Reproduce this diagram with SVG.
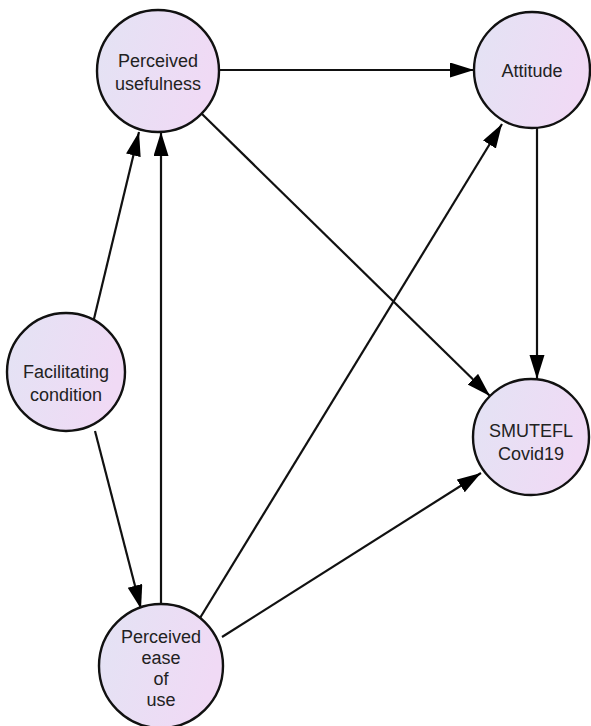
<svg xmlns="http://www.w3.org/2000/svg" width="591" height="726" viewBox="0 0 591 726">
<defs>
<linearGradient id="g" x1="0" y1="0" x2="1" y2="0.3">
<stop offset="0" stop-color="#e3e3f4"/>
<stop offset="1" stop-color="#f0daf5"/>
</linearGradient>
<marker id="arr" markerWidth="26" markerHeight="16" refX="24" refY="7.5" orient="auto" markerUnits="userSpaceOnUse">
<path d="M0,0 L24,7.5 L0,15 Z" fill="#000"/>
</marker>
<style>
.n{fill:url(#g);stroke:#111;stroke-width:2.4}
.t{font-family:"Liberation Sans",Arial,sans-serif;font-size:18px;fill:#222;text-anchor:middle}
.e{stroke:#111;stroke-width:2.2;fill:none;marker-end:url(#arr)}
</style>
</defs>
<rect width="591" height="726" fill="#fff"/>
<g id="connectors">
<line class="e" x1="219" y1="70" x2="474" y2="70"/>
<line class="e" x1="202" y1="114" x2="490" y2="396"/>
<line class="e" x1="537" y1="128" x2="537" y2="379"/>
<line class="e" x1="93" y1="323" x2="139" y2="132"/>
<line class="e" x1="95" y1="431" x2="141" y2="609"/>
<line class="e" x1="161" y1="605" x2="161" y2="132"/>
<line class="e" x1="200" y1="618" x2="502" y2="124"/>
<line class="e" x1="222" y1="637" x2="481" y2="473"/>
</g>
<g id="pu">
<circle class="n" cx="158" cy="71" r="61"/>
<text class="t" x="158" y="67">Perceived</text>
<text class="t" x="158" y="90">usefulness</text>
</g>
<g id="att">
<circle class="n" cx="532" cy="70" r="58"/>
<text class="t" x="532" y="77">Attitude</text>
</g>
<g id="fc">
<circle class="n" cx="66" cy="372" r="59"/>
<text class="t" x="66" y="378">Facilitating</text>
<text class="t" x="66" y="401">condition</text>
</g>
<g id="sm">
<circle class="n" cx="531" cy="437" r="58"/>
<text class="t" x="531" y="437">SMUTEFL</text>
<text class="t" x="531" y="460">Covid19</text>
</g>
<g id="peou">
<circle class="n" cx="161" cy="666" r="62"/>
<text class="t" x="161" y="643">Perceived</text>
<text class="t" x="161" y="664">ease</text>
<text class="t" x="161" y="685">of</text>
<text class="t" x="161" y="706">use</text>
</g>
</svg>
